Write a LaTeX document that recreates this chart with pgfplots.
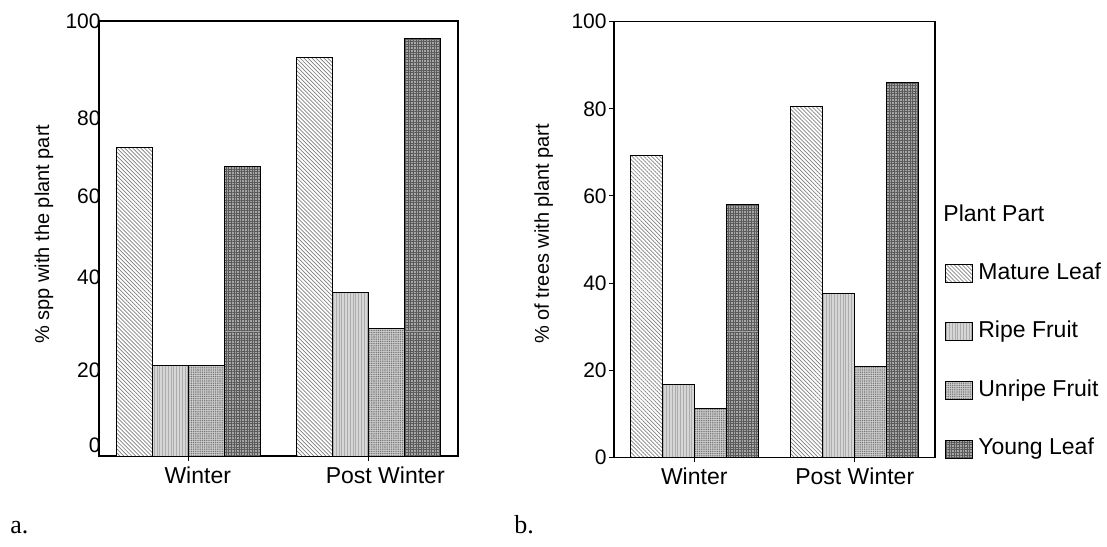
\documentclass[border=0pt]{standalone}
\usepackage{fontspec}
\setmainfont{Liberation Sans}
\newfontfamily\seriffont{Liberation Serif}
\usepackage{pgfplots}
\pgfplotsset{compat=1.18}
\usetikzlibrary{patterns.meta}

\pgfplotsset{
  mature/.style={draw=black, line width=0.5pt, fill=white,
    postaction={pattern={Lines[angle=-45,distance=1.4pt,line width=0.35pt]}, pattern color=black!50}},
  ripe/.style={draw=black, line width=0.5pt, fill=black!16,
    postaction={pattern={Lines[angle=90,distance=1.4pt,line width=0.3pt]}, pattern color=black!32}},
  unripe/.style={draw=black, line width=0.5pt, fill=black!20,
    postaction={pattern={Dots[distance=1.1pt,radius=0.38pt]}, pattern color=black!55}},
  young/.style={draw=black, line width=0.5pt, fill=black!35,
    postaction={pattern={Hatch[angle=0,distance=1.3pt,line width=0.35pt]}, pattern color=black!65}},
  common/.style={
    anchor=south west, scale only axis,
    xmin=-0.5, xmax=1.5, ymin=0, ymax=100,
    ybar=0pt, bar width=0.2,
    xtick={0,1}, xtick pos=bottom, ytick pos=left,
    axis line style={line width=0.6pt},
    x tick style={black, line width=0.5pt},
    tick align=outside, major tick length=2.5pt,
    xticklabel style={font=\fontsize{11.5}{13}\selectfont, inner sep=0pt, yshift=-2.5pt},
    yticklabel style={font=\fontsize{10.5}{12}\selectfont, inner sep=0pt},
    ylabel style={font=\fontsize{11.5}{13}\selectfont},
  },
}

\begin{document}
\begin{tikzpicture}[x=1pt,y=1pt]
\path[use as bounding box] (0,0) rectangle (553.5,273);

% ---------------- panel a
\begin{axis}[common,
  at={(49.5pt,45pt)}, width=179.5pt, height=217.5pt,
  xticklabels={{\hspace*{9pt}Winter},{\hspace*{17pt}Post Winter}},
  ytick={2.5,19.8,41.2,59.6,77.7,100}, yticklabels={0,20,40,60,80,100},
  y tick style={draw=none},
  yticklabel style={xshift=3.5pt},
  ylabel={\% spp with the plant part},
  every axis y label/.style={at={(axis description cs:-0.153,0.51)}, rotate=90, anchor=center},
]
\addplot[mature, bar shift=-0.3] coordinates {(0,70.9) (1,91.6)};
\addplot[ripe,   bar shift=-0.1] coordinates {(0,20.8) (1,37.5)};
\addplot[unripe, bar shift=0.1]  coordinates {(0,20.8) (1,29.2)};
\addplot[young,  bar shift=0.3]  coordinates {(0,66.5) (1,96.0)};
\end{axis}

% ---------------- panel b
\begin{axis}[common,
  at={(307pt,44.35pt)}, width=160.5pt, height=217.8pt,
  xticklabels={Winter,Post Winter},
  ytick={0,20,40,60,80,100}, yticklabels={0,20,40,60,80,100},
  y tick style={black, line width=0.5pt},
  yticklabel style={xshift=-1pt},
  ylabel={\% of trees with plant part},
  every axis y label/.style={at={(axis description cs:-0.219,0.513)}, rotate=90, anchor=center},
  legend style={at={(axis description cs:1.031,0.448)}, anchor=north west,
    draw=none, fill=none, inner sep=0pt, row sep=18.5pt, column sep=2.5pt,
    nodes={inner sep=0pt, text height=8.3pt, text depth=2.5pt, font=\fontsize{11.5}{13}\selectfont}},
  legend cell align=left,
  legend image code/.code={\draw[#1] (0pt,-4.5pt) rectangle (13.5pt,4.5pt);},
]
\addplot[mature, bar shift=-0.3] coordinates {(0,69.2) (1,80.5)};
\addplot[ripe,   bar shift=-0.1] coordinates {(0,16.6) (1,37.5)};
\addplot[unripe, bar shift=0.1]  coordinates {(0,11.2) (1,20.8)};
\addplot[young,  bar shift=0.3]  coordinates {(0,58.1) (1,86.0)};
\legend{Mature Leaf, Ripe Fruit, Unripe Fruit, Young Leaf}
\end{axis}

\node[anchor=base west, inner sep=0pt, font=\fontsize{11.5}{13}\selectfont] at (471.5,162) {Plant Part};
\node[anchor=base west, inner sep=0pt, font=\seriffont\fontsize{13}{15}\selectfont] at (5,6.5) {a.};
\node[anchor=base west, inner sep=0pt, font=\seriffont\fontsize{13}{15}\selectfont] at (257,6.5) {b.};
\end{tikzpicture}
\end{document}
